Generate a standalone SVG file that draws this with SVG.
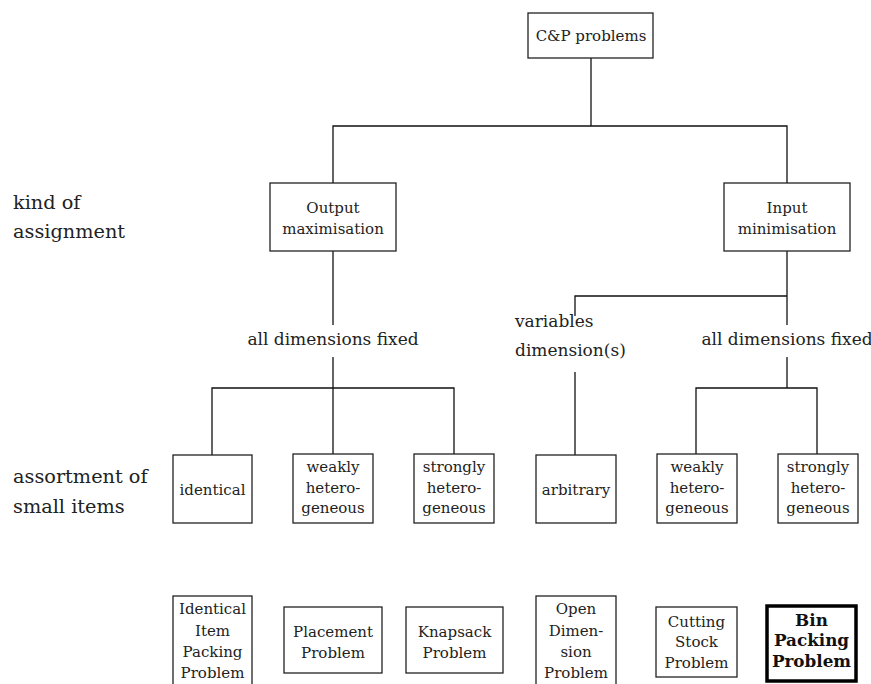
<svg xmlns="http://www.w3.org/2000/svg" width="871" height="684" viewBox="0 0 871 684">
  <style>
    .box { fill: #fff; stroke: #222; stroke-width: 1.3; }
    .bold-box { fill: #fff; stroke: #000; stroke-width: 3.5; }
    .t { font-family: 'DejaVu Serif', serif; font-size: 15px; fill: #222; text-anchor: middle; }
    .tb { font-weight: bold; font-size: 16.8px; fill: #111; }
    .lbl { font-family: 'DejaVu Serif', serif; font-size: 19.3px; fill: #222; }
    .mid { font-family: 'DejaVu Serif', serif; font-size: 17px; fill: #222; }
    .edge { fill: none; stroke: #111; stroke-width: 1.3; }
  </style>
  <rect width="871" height="684" fill="#fff"/>

  <!-- connectors -->
  <g id="connectors">
    <path class="edge" d="M591 58 V126"/>
    <path class="edge" d="M333 183 V126 H787 V183"/>
    <path class="edge" d="M333 251 V325"/>
    <path class="edge" d="M333 357 V388"/>
    <path class="edge" d="M212 455 V388 H454 V455"/>
    <path class="edge" d="M333 388 V455"/>
    <path class="edge" d="M787 251 V325"/>
    <path class="edge" d="M575 316 V296 H787"/>
    <path class="edge" d="M575 372 V455"/>
    <path class="edge" d="M787 357 V388"/>
    <path class="edge" d="M696 455 V388 H817 V455"/>
  </g>

  <!-- level labels -->
  <g id="level-labels">
    <text class="lbl" x="13" y="209">kind of</text>
    <text class="lbl" x="13" y="238">assignment</text>
    <text class="lbl" x="13" y="483">assortment of</text>
    <text class="lbl" x="13" y="513">small items</text>
  </g>

  <!-- branch labels -->
  <g id="branch-labels">
    <text class="mid" x="333" y="345" text-anchor="middle">all dimensions fixed</text>
    <text class="mid" x="787" y="345" text-anchor="middle">all dimensions fixed</text>
    <text class="mid" x="515" y="327">variables</text>
    <text class="mid" x="515" y="356">dimension(s)</text>
  </g>

  <g id="root">
    <rect class="box" x="528" y="13" width="125" height="45"/>
    <text class="t" x="591" y="41">C&amp;P problems</text>
  </g>

  <g id="output-max">
    <rect class="box" x="270" y="183" width="126" height="68"/>
    <text class="t" x="333" y="213">Output</text>
    <text class="t" x="333" y="234">maximisation</text>
  </g>

  <g id="input-min">
    <rect class="box" x="724" y="183" width="126" height="68"/>
    <text class="t" x="787" y="213">Input</text>
    <text class="t" x="787" y="234">minimisation</text>
  </g>

  <g id="identical">
    <rect class="box" x="173" y="455" width="79" height="68"/>
    <text class="t" x="212.5" y="495">identical</text>
  </g>

  <g id="om-weakly">
    <rect class="box" x="293" y="454" width="80" height="69"/>
    <text class="t" x="333" y="472">weakly</text>
    <text class="t" x="333" y="493">hetero-</text>
    <text class="t" x="333" y="513">geneous</text>
  </g>

  <g id="om-strongly">
    <rect class="box" x="414" y="454" width="80" height="69"/>
    <text class="t" x="454" y="472">strongly</text>
    <text class="t" x="454" y="493">hetero-</text>
    <text class="t" x="454" y="513">geneous</text>
  </g>

  <g id="arbitrary">
    <rect class="box" x="536" y="455" width="80" height="68"/>
    <text class="t" x="576" y="495">arbitrary</text>
  </g>

  <g id="im-weakly">
    <rect class="box" x="657" y="454" width="80" height="69"/>
    <text class="t" x="697" y="472">weakly</text>
    <text class="t" x="697" y="493">hetero-</text>
    <text class="t" x="697" y="513">geneous</text>
  </g>

  <g id="im-strongly">
    <rect class="box" x="778" y="454" width="80" height="69"/>
    <text class="t" x="818" y="472">strongly</text>
    <text class="t" x="818" y="493">hetero-</text>
    <text class="t" x="818" y="513">geneous</text>
  </g>

  <g id="iipp">
    <rect class="box" x="173" y="596" width="79" height="100"/>
    <text class="t" x="212.5" y="614">Identical</text>
    <text class="t" x="212.5" y="636">Item</text>
    <text class="t" x="212.5" y="657">Packing</text>
    <text class="t" x="212.5" y="678">Problem</text>
  </g>

  <g id="placement">
    <rect class="box" x="284" y="607" width="98" height="66"/>
    <text class="t" x="333" y="637">Placement</text>
    <text class="t" x="333" y="658">Problem</text>
  </g>

  <g id="knapsack">
    <rect class="box" x="406" y="607" width="97" height="66"/>
    <text class="t" x="454.5" y="637">Knapsack</text>
    <text class="t" x="454.5" y="658">Problem</text>
  </g>

  <g id="odp">
    <rect class="box" x="536" y="596" width="80" height="100"/>
    <text class="t" x="576" y="614">Open</text>
    <text class="t" x="576" y="636">Dimen-</text>
    <text class="t" x="576" y="657">sion</text>
    <text class="t" x="576" y="678">Problem</text>
  </g>

  <g id="cutting-stock">
    <rect class="box" x="656" y="607" width="81" height="70"/>
    <text class="t" x="696.5" y="627">Cutting</text>
    <text class="t" x="696.5" y="647">Stock</text>
    <text class="t" x="696.5" y="668">Problem</text>
  </g>

  <g id="bin-packing">
    <rect class="bold-box" x="767" y="606" width="89" height="75"/>
    <text class="t tb" x="811.5" y="626">Bin</text>
    <text class="t tb" x="811.5" y="646">Packing</text>
    <text class="t tb" x="811.5" y="667">Problem</text>
  </g>
</svg>
